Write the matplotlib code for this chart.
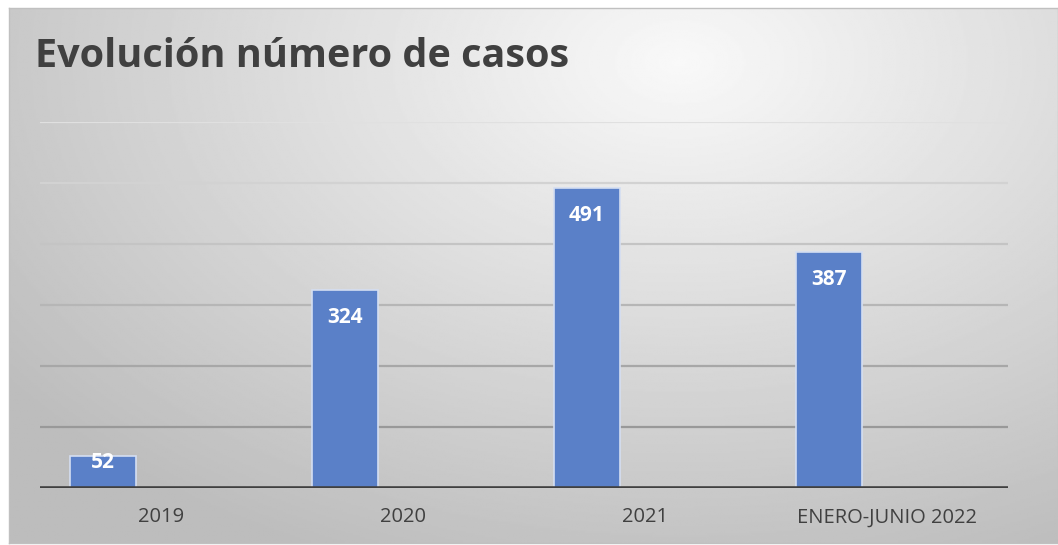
import numpy as np
import matplotlib.pyplot as plt

categorias = ['2019', '2020', '2021', 'ENERO-JUNIO 2022']
casos = [52, 324, 491, 387]

W, H = 1058, 545
fig = plt.figure(figsize=(W / 100, H / 100), dpi=100, facecolor='white')

# fondo con degradado radial
bg = fig.add_axes([9 / W, 2 / H, 1 - 9 / W, 1 - 10 / H])
yy, xx = np.mgrid[0:1:300j, 0:1:600j]
d = np.sqrt(((xx - 0.64) / 0.75) ** 2 + ((yy - 0.1) / 0.95) ** 2)
val = np.clip(0.975 - 0.22 * d, 0.74, 1.0)
bg.imshow(val, cmap='gray', vmin=0, vmax=1, aspect='auto', extent=[0, 1, 1, 0])
bg.set_xticks([])
bg.set_yticks([])
for s in bg.spines.values():
    s.set_color('#c0c0c0')
    s.set_linewidth(1)

ax = fig.add_axes([40 / W, (H - 488) / H, 968 / W, 366 / H])
ax.patch.set_alpha(0)
x = np.arange(len(categorias))
bars = ax.bar(x - 0.24, casos, width=0.275, color='#5a80c8', edgecolor='#d4def2',
              linewidth=1.2, zorder=3)

for b, v in zip(bars, casos):
    ypos = max(v - 45, v * 0.8)
    ax.text(b.get_x() + b.get_width() / 2, ypos, str(v), ha='center', va='center',
            color='white', fontsize=15, fontweight='bold', family='Open Sans', zorder=4)

ax.set_ylim(0, 600)
ax.set_xlim(-0.5, len(categorias) - 0.5)
ticks = np.arange(100, 601, 100)
grid_cols = np.linspace(0.6, 0.88, len(ticks))
for t, c in zip(ticks, grid_cols):
    ax.axhline(t, color=str(c), linewidth=1.6, zorder=1)
ax.axhline(0, color='#404040', linewidth=2.6, zorder=5)

ax.set_yticks([])
ax.set_xticks(x)
ax.set_xticklabels(categorias, fontsize=14.5, color='#404040', family='Open Sans')
ax.tick_params(axis='x', length=0, pad=14)
for s in ax.spines.values():
    s.set_visible(False)

fig.text(35 / W, 1 - 67 / H, 'Evolución número de casos', fontsize=28.5, fontweight='bold',
         color='#404040', family='Open Sans', va='baseline', ha='left')

fig.savefig('out.png', dpi=100, facecolor='white')
